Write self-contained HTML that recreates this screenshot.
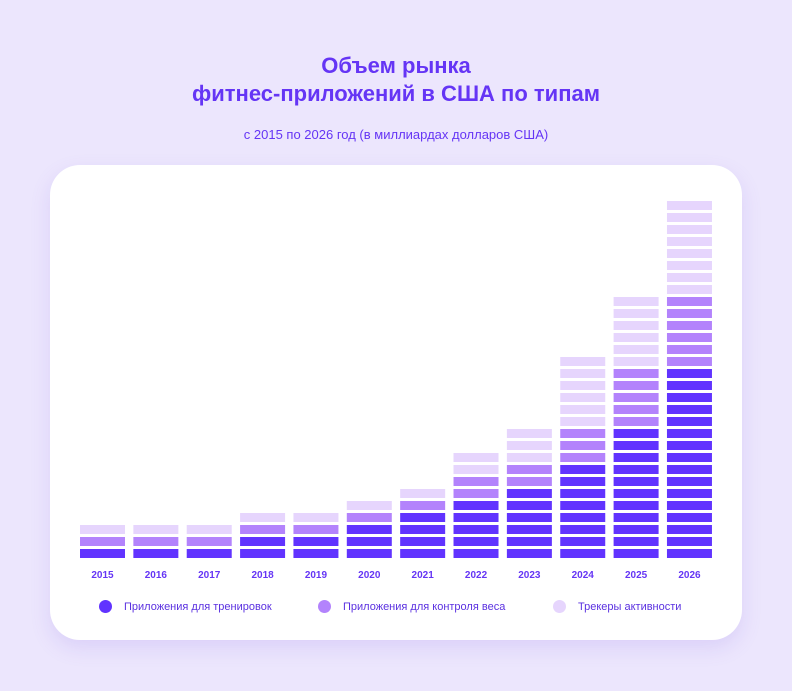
<!DOCTYPE html>
<html><head><meta charset="utf-8"><style>
body{margin:0;width:792px;height:691px;background:#ece6fd;font-family:"Liberation Sans",sans-serif;overflow:hidden;position:relative}
.t{position:absolute;left:0;width:792px;text-align:center;color:#6535f5;font-weight:bold;font-size:22px;line-height:28px}
.sub{position:absolute;top:127px;left:0;width:792px;text-align:center;color:#6535f5;font-size:13px}
.card{position:absolute;left:50px;top:165px;width:692px;height:475px;background:#fff;border-radius:30px;box-shadow:0 8px 20px rgba(120,90,220,0.15)}
.lg{position:absolute;top:600px;font-size:11px;color:#5a30e0;display:flex;align-items:center}
.lg span{width:13px;height:13px;border-radius:50%;display:inline-block;margin-right:12px}
</style></head><body>
<div class="t" style="top:52px">Объем рынка<br>фитнес-приложений в США по типам</div>
<div class="sub">с 2015 по 2026 год (в миллиардах долларов США)</div>
<div class="card"></div>
<svg id="c" width="792" height="691" style="position:absolute;left:0;top:0"></svg>
<div class="lg" style="left:99px"><span style="background:#6133ff"></span>Приложения для тренировок</div>
<div class="lg" style="left:318px"><span style="background:#b383fc"></span>Приложения для контроля веса</div>
<div class="lg" style="left:553px"><span style="background:#e6d5fd"></span>Трекеры активности</div>
<script>
const years=["2015","2016","2017","2018","2019","2020","2021","2022","2023","2024","2025","2026"];
const workout=[1,1,1,2,2,3,4,5,6,8,11,16];
const weight=[1,1,1,1,1,1,1,2,2,3,5,6];
const trackers=[1,1,1,1,1,1,1,2,3,6,6,8];
const colors=["#6133ff","#b383fc","#e6d5fd"];
const svg=document.getElementById('c');const NS="http://www.w3.org/2000/svg";
const x0=80,step=53.36,bw=45,base=558,pitch=12,bh=9;
function xs(i){return x0+i*step}
function ys(k){return base-bh-k*pitch}
years.forEach((y,i)=>{
 let k=0;
 [workout,weight,trackers].forEach((s,si)=>{
  for(let j=0;j<s[i];j++){
   const r=document.createElementNS(NS,'rect');
   
   
   r.setAttribute('x',xs(i));r.setAttribute('y',ys(k));r.setAttribute('width',bw);r.setAttribute('height',bh);r.setAttribute('fill',colors[si]);
   svg.appendChild(r);k++;
  }
 });
 const t=document.createElementNS(NS,'text');
 
 
 t.setAttribute('x',xs(i)+bw/2);t.setAttribute('y',578);t.setAttribute('text-anchor','middle');
 t.setAttribute('font-size','10');t.setAttribute('font-weight','bold');t.setAttribute('fill','#6535f5');t.setAttribute('font-family','Liberation Sans, sans-serif');
 t.textContent=y;svg.appendChild(t);
});
</script>
</body></html>
